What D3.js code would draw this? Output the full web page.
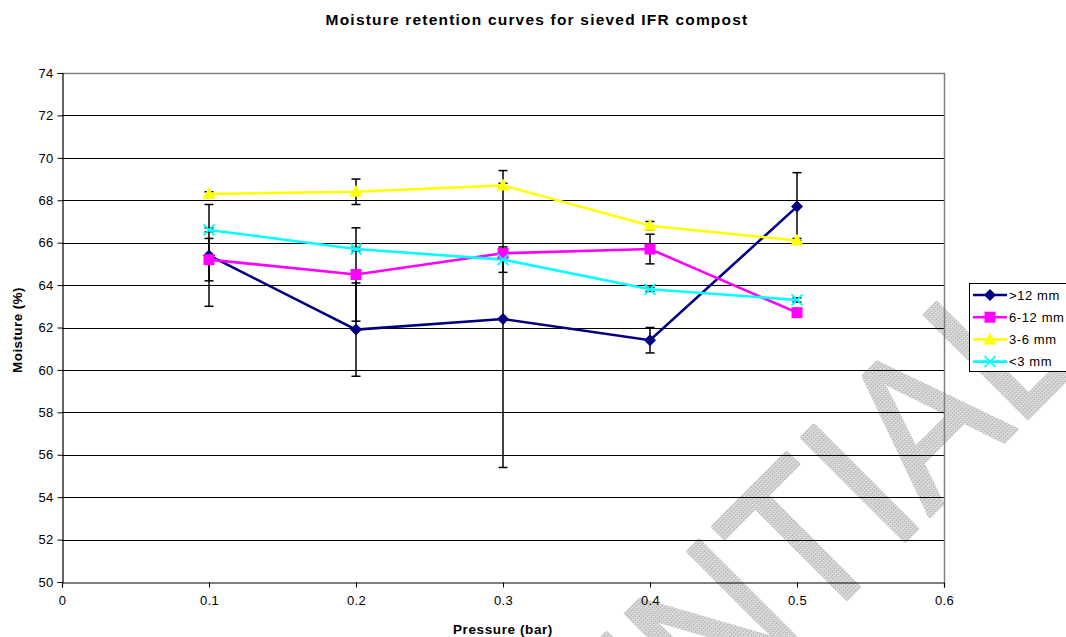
<!DOCTYPE html>
<html><head><meta charset="utf-8">
<script src="https://cdn.jsdelivr.net/npm/d3@7"></script>
<style>html,body{margin:0;padding:0;background:#fff;}svg{display:block;font-family:"Liberation Sans",Arial,sans-serif;}</style>
</head><body>
<svg id="c" width="1066" height="637"></svg>
<script>
const pressure = [0.1, 0.2, 0.3, 0.4, 0.5];
const seriesNames = [">12 mm", "6-12 mm", "3-6 mm", "<3 mm"];
const gt12 = [65.4, 61.9, 62.4, 61.4, 67.7];
const mm6to12 = [65.2, 64.5, 65.5, 65.7, 62.7];
const mm3to6 = [68.3, 68.4, 68.7, 66.8, 66.1];
const lt3 = [66.6, 65.7, 65.2, 63.8, 63.3];
const errGt12 = [2.4, 2.2, 7.0, 0.6, 1.6];
const err6to12 = [1.0, 2.2, 0.1, 0.7, 0.1];
const err3to6 = [0.1, 0.6, 0.1, 0.2, 0.1];
const errLt3 = [0.1, 0.1, 0.6, 0.1, 0.1];
const xTicks = [0, 0.1, 0.2, 0.3, 0.4, 0.5, 0.6];
const yTicks = [50, 52, 54, 56, 58, 60, 62, 64, 66, 68, 70, 72, 74];

const colors = ["#000080", "#FF00FF", "#FFFF00", "#00FFFF"];
const symbols = ["diamond", "square", "triangle", "cross"];
const values = [gt12, mm6to12, mm3to6, lt3];
const errors = [errGt12, err6to12, err3to6, errLt3];

const svg = d3.select("#c");
const L = 62, R = 944, T = 73, B = 582;
const x = d3.scaleLinear().domain([0, 0.6]).range([L, R]);
const y = d3.scaleLinear().domain([50, 74]).range([B, T]);

// watermark (background)
const defs = svg.append("defs");
const pat = defs.append("pattern").attr("id", "wm").attr("width", 3).attr("height", 3).attr("patternUnits", "userSpaceOnUse");
pat.append("rect").attr("width", 3).attr("height", 3).attr("fill", "#cfcfcf");
pat.append("rect").attr("x", 0).attr("y", 0).attr("width", 1).attr("height", 1).attr("fill", "#9a9a9a");
pat.append("rect").attr("x", 2).attr("y", 1).attr("width", 1).attr("height", 1).attr("fill", "#f0f0f0");
pat.append("rect").attr("x", 1).attr("y", 2).attr("width", 1).attr("height", 1).attr("fill", "#aaaaaa");
const fs = 212;
const wm = svg.append("g").attr("transform", "translate(853,593) rotate(-45) scale(0.875,1)").attr("opacity", 0.85);
const tOff = -0.305 * fs;
wm.append("text").attr("x", tOff).attr("y", 0).attr("text-anchor", "end").attr("font-size", fs)
  .attr("fill", "url(#wm)").attr("stroke", "url(#wm)").attr("stroke-width", 4).attr("stroke-linejoin", "round").text("CONFIDEN");
wm.append("text").attr("x", tOff).attr("y", 0).attr("text-anchor", "start").attr("font-size", fs)
  .attr("fill", "url(#wm)").attr("stroke", "url(#wm)").attr("stroke-width", 4).attr("stroke-linejoin", "round").text("TIAL");

// title
svg.append("text").attr("x", 537).attr("y", 25).attr("text-anchor", "middle")
  .attr("font-size", 15.5).attr("letter-spacing", 1.2).attr("font-weight", "bold").text("Moisture retention curves for sieved IFR compost");

// grid
svg.append("g").selectAll("line").data(yTicks.slice(1, -1)).join("line")
  .attr("x1", L).attr("x2", R).attr("y1", d => Math.round(y(d)) + 0.5).attr("y2", d => Math.round(y(d)) + 0.5)
  .attr("stroke", "#000").attr("stroke-width", 1);
// plot border top/right
svg.append("path").attr("d", `M${L},${T + 0.5}H${R + 0.5}V${B}`).attr("fill", "none").attr("stroke", "#808080").attr("stroke-width", 1.5);

// axes
const yAxis = d3.axisLeft(y).tickValues(yTicks).tickSize(5).tickPadding(4);
const gy = svg.append("g").attr("transform", `translate(${L + 0.5},0)`).call(yAxis);
const xAxis = d3.axisBottom(x).tickValues(xTicks).tickSize(5).tickPadding(8).tickFormat(d => d === 0 ? "0" : d3.format(".1f")(d));
const gx = svg.append("g").attr("transform", `translate(0,${B + 0.5})`).call(xAxis);
[gx, gy].forEach(g => {
  g.select(".domain").attr("stroke", "#000").attr("stroke-width", 1.2);
  g.selectAll(".tick line").attr("stroke", "#000");
  g.selectAll("text").attr("font-size", 13).attr("letter-spacing", 0.3).attr("fill", "#000").attr("font-family", "Liberation Sans, Arial, sans-serif");
});

// axis titles
svg.append("text").attr("x", 503).attr("y", 634).attr("text-anchor", "middle")
  .attr("font-size", 13.5).attr("letter-spacing", 0.6).attr("font-weight", "bold").text("Pressure (bar)");
svg.append("text").attr("transform", "translate(22,330) rotate(-90)").attr("text-anchor", "middle")
  .attr("font-size", 13.5).attr("letter-spacing", 0.4).attr("font-weight", "bold").text("Moisture (%)");

// error bars
const eg = svg.append("g");
values.forEach((vals, si) => {
  vals.forEach((v, i) => {
    const e = errors[si][i];
    const cx = x(pressure[i]);
    eg.append("line").attr("x1", cx).attr("x2", cx).attr("y1", y(v + e)).attr("y2", y(v - e)).attr("stroke", "#000").attr("stroke-width", 1.5);
    [v + e, v - e].forEach(t => eg.append("line").attr("x1", cx - 4.5).attr("x2", cx + 4.5).attr("y1", y(t)).attr("y2", y(t)).attr("stroke", "#000").attr("stroke-width", 1.5));
  });
});

const line = d3.line().x((d, i) => x(pressure[i])).y(d => y(d));
function marker(g, type, color, cx, cy) {
  if (type === "diamond") {
    g.append("path").attr("d", `M${cx},${cy - 6}L${cx + 6},${cy}L${cx},${cy + 6}L${cx - 6},${cy}Z`).attr("fill", color);
  } else if (type === "square") {
    g.append("rect").attr("x", cx - 5.5).attr("y", cy - 5.5).attr("width", 11).attr("height", 11).attr("fill", color);
  } else if (type === "triangle") {
    g.append("path").attr("d", `M${cx},${cy - 7}L${cx + 6.5},${cy + 5}L${cx - 6.5},${cy + 5}Z`).attr("fill", color);
  } else {
    g.append("path").attr("d", `M${cx - 5.5},${cy - 5.5}L${cx + 5.5},${cy + 5.5}M${cx - 5.5},${cy + 5.5}L${cx + 5.5},${cy - 5.5}`).attr("stroke", color).attr("stroke-width", 1.8);
  }
}
values.forEach((vals, si) => {
  svg.append("path").datum(vals).attr("d", line).attr("fill", "none").attr("stroke", colors[si]).attr("stroke-width", 2.6);
});
values.forEach((vals, si) => {
  const g = svg.append("g");
  vals.forEach((v, i) => marker(g, symbols[si], colors[si], x(pressure[i]), y(v)));
});

// legend
const lg = svg.append("g");
lg.append("rect").attr("x", 969.5).attr("y", 283.5).attr("width", 110).attr("height", 88).attr("fill", "#fff").attr("stroke", "#000").attr("stroke-width", 1);
seriesNames.forEach((n, i) => {
  const ly = 295 + i * 22.2;
  lg.append("line").attr("x1", 973).attr("x2", 1007).attr("y1", ly).attr("y2", ly).attr("stroke", colors[i]).attr("stroke-width", 2.6);
  marker(lg, symbols[i], colors[i], 990, ly);
  lg.append("text").attr("x", 1009).attr("y", ly + 4.5).attr("font-size", 13).attr("letter-spacing", 0.6).text(n);
});
</script>
</body></html>
